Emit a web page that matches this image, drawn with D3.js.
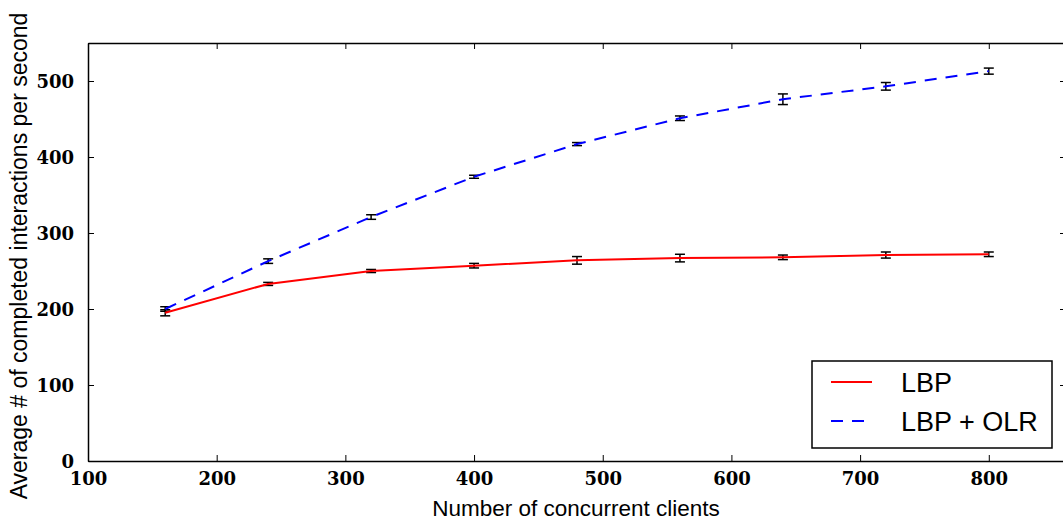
<!DOCTYPE html>
<html><head><meta charset="utf-8">
<script src="https://cdn.jsdelivr.net/npm/d3@7"></script>
<style>body{margin:0;background:#fff}svg{display:block}</style>
</head><body>
<svg id="c" width="1063" height="524"></svg>
<script>
const clients = [160, 240, 320, 400, 480, 560, 640, 720, 800];
const lbp = [195, 233, 250, 257, 264, 267, 268, 271, 272];
const lbpErr = [4, 2, 2, 3, 5, 5, 3, 4, 3];
const olr = [200, 263, 321, 374, 417, 451, 476, 493, 513];
const olrErr = [3, 3, 3, 2, 2, 3, 7, 5, 4];
const xTicks = [100, 200, 300, 400, 500, 600, 700, 800];
const yTicks = [0, 100, 200, 300, 400, 500];
const seriesNames = ["LBP", "LBP + OLR"];

const svg = d3.select("#c");
const L = 88, R = 1066, T = 43, B = 461;
const x = d3.scaleLinear().domain([100, 860]).range([L, R]);
const y = d3.scaleLinear().domain([0, 550]).range([B, T]);

const tickFont = "bold 18px 'DejaVu Serif', 'Liberation Serif', serif";

const gB = svg.append("g").attr("transform", `translate(0,${B})`)
  .call(d3.axisBottom(x).tickValues(xTicks).tickSizeInner(-6).tickSizeOuter(0).tickPadding(11).tickFormat(d3.format("d")));
const gT = svg.append("g").attr("transform", `translate(0,${T})`)
  .call(d3.axisTop(x).tickValues(xTicks).tickSizeInner(-6).tickSizeOuter(0).tickFormat(""));
const gL = svg.append("g").attr("transform", `translate(${L},0)`)
  .call(d3.axisLeft(y).tickValues(yTicks).tickSizeInner(-6).tickSizeOuter(0).tickPadding(14).tickFormat(d3.format("d")));
const gR = svg.append("g").attr("transform", `translate(${R},0)`)
  .call(d3.axisRight(y).tickValues(yTicks).tickSizeInner(-6).tickSizeOuter(0).tickFormat(""));
[gB, gT, gL, gR].forEach(g => {
  g.select(".domain").attr("stroke", "#000").attr("stroke-width", 1.5);
  g.selectAll(".tick line").attr("stroke", "#000").attr("stroke-width", 1);
  g.selectAll(".tick text").style("font", tickFont).attr("fill", "#000");
});
gL.selectAll(".tick text").attr("dy", "0.35em");

function errBars(vals, errs) {
  const g = svg.append("g");
  clients.forEach((c, i) => {
    const cx = x(c), y0 = y(vals[i] - errs[i]), y1 = y(vals[i] + errs[i]);
    g.append("line").attr("x1", cx).attr("x2", cx).attr("y1", y0).attr("y2", y1).attr("stroke", "#000").attr("stroke-width", 1.5);
    [y0, y1].forEach(yy => g.append("line").attr("x1", cx - 5).attr("x2", cx + 5).attr("y1", yy).attr("y2", yy).attr("stroke", "#000").attr("stroke-width", 1.5));
  });
}
errBars(lbp, lbpErr);
errBars(olr, olrErr);

const line = d3.line().x((d, i) => x(clients[i])).y(d => y(d));
svg.append("path").datum(lbp).attr("d", line).attr("fill", "none").attr("stroke", "#ff0000").attr("stroke-width", 2);
svg.append("path").datum(olr).attr("d", line).attr("fill", "none").attr("stroke", "#0000ff").attr("stroke-width", 2).attr("stroke-dasharray", "12,9");

const lg = svg.append("g");
lg.append("rect").attr("x", 812).attr("y", 361).attr("width", 240).attr("height", 87).attr("fill", "#fff").attr("stroke", "#000").attr("stroke-width", 1.5);
lg.append("line").attr("x1", 831).attr("x2", 872).attr("y1", 382).attr("y2", 382).attr("stroke", "#ff0000").attr("stroke-width", 2);
lg.append("line").attr("x1", 831).attr("x2", 872).attr("y1", 421).attr("y2", 421).attr("stroke", "#0000ff").attr("stroke-width", 2).attr("stroke-dasharray", "12,9");
const legFont = "27px 'Liberation Sans', Arial, sans-serif";
lg.append("text").attr("x", 901).attr("y", 392).text(seriesNames[0]).style("font", legFont);
lg.append("text").attr("x", 901).attr("y", 431).text(seriesNames[1]).style("font", legFont);

const labFont = "22.5px 'Liberation Sans', Arial, sans-serif";
svg.append("text").attr("x", 576).attr("y", 516).attr("text-anchor", "middle")
  .style("font", labFont).text("Number of concurrent clients");
svg.append("text").attr("transform", "translate(27,256) rotate(-90)").attr("text-anchor", "middle")
  .style("font", "23px 'Liberation Sans', Arial, sans-serif").text("Average # of completed interactions per second");
</script>
</body></html>
